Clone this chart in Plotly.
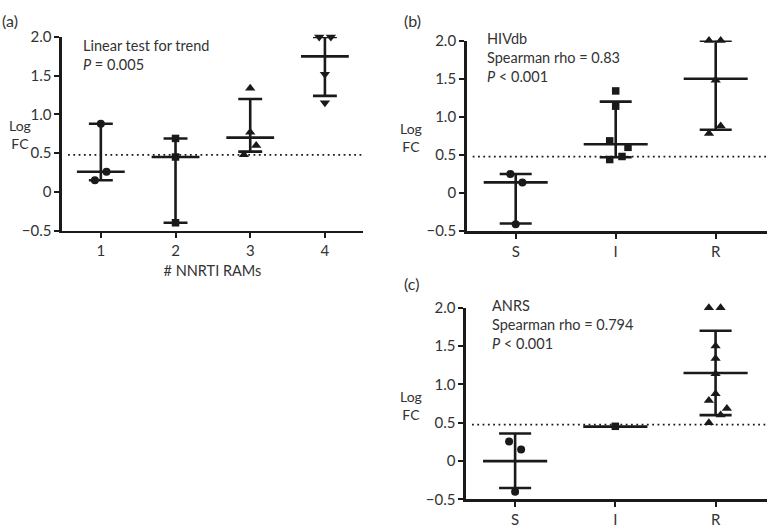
import plotly.graph_objects as go

# ---------------- data ----------------
# Panel (a): # NNRTI RAMs
a_categories = [1, 2, 3, 4]
a_tick_labels = ["1", "2", "3", "4"]
a_values = [[0.88, 0.15, 0.26], [0.69, 0.45, -0.40], [1.34, 0.77, 0.60, 0.48], [2.0, 2.0, 1.52, 1.15]]
a_jitter = [[0, -0.08, 0.076], [0, 0, 0], [0, 0, 0.08, -0.085], [-0.076, 0.08, 0, 0]]
a_center = [0.26, 0.45, 0.70, 1.75]   # median
a_low = [0.15, -0.40, 0.52, 1.24]     # IQR
a_high = [0.88, 0.69, 1.20, 2.0]
a_symbols = ["circle", "square", "triangle-up", "triangle-down"]

# Panel (b): HIVdb
b_categories = [0, 1, 2]
b_tick_labels = ["S", "I", "R"]
b_values = [[0.25, 0.14, -0.41], [1.34, 1.14, 0.685, 0.60, 0.44, 0.48], [2.0, 2.0, 1.48, 0.88, 0.78]]
b_jitter = [[-0.053, 0.067, 0], [0, 0, -0.06, 0.123, -0.06, 0.063], [-0.067, 0.05, 0, 0.05, -0.067]]
b_center = [0.14, 0.64, 1.50]
b_low = [-0.40, 0.47, 0.83]
b_high = [0.25, 1.20, 2.0]

# Panel (c): ANRS
c_categories = [0, 1, 2]
c_tick_labels = ["S", "I", "R"]
c_values = [[0.256, 0.151, -0.40], [0.454], [2.0, 2.0, 1.50, 1.34, 1.14, 0.88, 0.79, 0.685, 0.60, 0.50]]
c_jitter = [[-0.06, 0.06, 0], [0], [-0.067, 0.05, 0, 0, 0, 0, -0.067, 0.113, 0.05, -0.067]]
c_center = [0.0, 0.45, 1.15]   # mean
c_low = [-0.35, None, 0.60]    # SD
c_high = [0.36, None, 1.70]
sir_symbols = ["circle", "square", "triangle-up"]

threshold = 0.477
y_tickvals = [-0.5, 0, 0.5, 1.0, 1.5, 2.0]
y_ticktext = ["\u22120.5", "0", "0.5", "1.0", "1.5", "2.0"]

FONT = "Lato"
INK = "#1a1a1a"
TXT = "#333333"
LW = 2.6
MED_HW = 0.32
CAP_HW = 0.16
TICK_SIZE = 15
TEXT_SIZE = 14.5

fig = go.Figure()

def add_panel(xa, ya, cats, values, jitter, center, low, high, symbols, xrange):
    xref = "x" if xa == 1 else f"x{xa}"
    yref = "y" if ya == 1 else f"y{ya}"
    for cat, vals, jit, sym in zip(cats, values, jitter, symbols):
        size = 8 if sym == "circle" else (7.5 if sym == "square" else 9)
        fig.add_trace(go.Scatter(
            x=[cat + j for j in jit], y=vals, mode="markers",
            marker=dict(symbol=sym, size=size, color=INK, line=dict(width=0)),
            xaxis=xref, yaxis=yref, showlegend=False, cliponaxis=False, hoverinfo="skip"))
    lx, ly = [], []
    for cat, c, lo, hi in zip(cats, center, low, high):
        lx += [cat - MED_HW, cat + MED_HW, None]
        ly += [c, c, None]
        if lo is not None:
            lx += [cat, cat, None, cat - CAP_HW, cat + CAP_HW, None, cat - CAP_HW, cat + CAP_HW, None]
            ly += [lo, hi, None, lo, lo, None, hi, hi, None]
    fig.add_trace(go.Scatter(x=lx, y=ly, mode="lines", line=dict(color=INK, width=LW),
                             xaxis=xref, yaxis=yref, showlegend=False, cliponaxis=False,
                             hoverinfo="skip"))
    span = xrange[1] - xrange[0]
    fig.add_trace(go.Scatter(x=[xrange[0] + 0.02 * span, xrange[1]], y=[threshold, threshold],
                             mode="lines", line=dict(color=INK, width=1.8, dash="1.8px,3.5px"),
                             xaxis=xref, yaxis=yref, showlegend=False, cliponaxis=False,
                             hoverinfo="skip"))

a_range = [0.48, 4.51]
s_range = [-0.49, 2.51]
add_panel(1, 1, a_categories, a_values, a_jitter, a_center, a_low, a_high, a_symbols, a_range)
add_panel(2, 2, b_categories, b_values, b_jitter, b_center, b_low, b_high, sir_symbols, s_range)
add_panel(3, 3, c_categories, c_values, c_jitter, c_center, c_low, c_high, sir_symbols, s_range)

W, H = 770, 528
def px(x0, x1):
    return [x0 / W, x1 / W]
def py(top, bottom):
    return [1 - bottom / H, 1 - top / H]

axis_common = dict(showline=True, linewidth=LW, linecolor=INK, ticks="outside", ticklen=5,
                   tickwidth=2, tickcolor=INK, showgrid=False, zeroline=False, fixedrange=True,
                   tickfont=dict(family=FONT, size=TICK_SIZE, color=TXT))

fig.update_layout(
    width=W, height=H, margin=dict(l=0, r=0, t=0, b=0),
    paper_bgcolor="white", plot_bgcolor="white",
    font=dict(family=FONT, size=TEXT_SIZE, color=TXT),
    xaxis=dict(domain=px(62, 363), range=a_range, tickvals=a_categories, ticktext=a_tick_labels,
               anchor="y", title=dict(text="# NNRTI RAMs", standoff=8,
                                      font=dict(family=FONT, size=TEXT_SIZE, color=TXT)), **axis_common),
    yaxis=dict(domain=py(28, 228.3), range=[-0.5, 2.0], tickvals=y_tickvals, ticktext=y_ticktext,
               anchor="x", **axis_common),
    xaxis2=dict(domain=px(466.7, 766.7), range=s_range, tickvals=b_categories, ticktext=b_tick_labels,
                anchor="y2", **axis_common),
    yaxis2=dict(domain=py(31.7, 229), range=[-0.5, 2.0], tickvals=y_tickvals, ticktext=y_ticktext,
                anchor="x2", **axis_common),
    xaxis3=dict(domain=px(466, 766.7), range=s_range, tickvals=c_categories, ticktext=c_tick_labels,
                anchor="y3", **axis_common),
    yaxis3=dict(domain=py(308.3, 506.7), range=[-0.5, 2.0], tickvals=y_tickvals, ticktext=y_ticktext,
                anchor="x3", **axis_common),
)

def ann(x, y, text, xanchor="left", yanchor="middle", size=TEXT_SIZE, align="left"):
    fig.add_annotation(x=x / W, y=1 - y / H, xref="paper", yref="paper", text=text, showarrow=False,
                       xanchor=xanchor, yanchor=yanchor, align=align,
                       font=dict(family=FONT, size=size, color=TXT))

# panel letters
ann(0, 11, "(a)", size=16)
ann(402, 11, "(b)", size=16)
ann(402, 283, "(c)", size=16)

# y titles
ann(20, 129, "Log<br>FC", xanchor="center", align="center", size=14)
ann(411, 132, "Log<br>FC", xanchor="center", align="center", size=14)
ann(411, 409, "Log<br>FC", xanchor="center", align="center", size=14)

# statistics text
ann(81, 47, "Linear test for trend<br><i>P</i> = 0.005")
ann(485, 49, "HIVdb<br>Spearman rho = 0.83<br><i>P</i> < 0.001")
ann(490, 326, "ANRS<br>Spearman rho = 0.794<br><i>P</i> < 0.001")

fig.write_html("out.html", config={"displayModeBar": False, "staticPlot": True},
               post_script="document.body.style.margin='0';document.body.style.overflow='hidden';")
